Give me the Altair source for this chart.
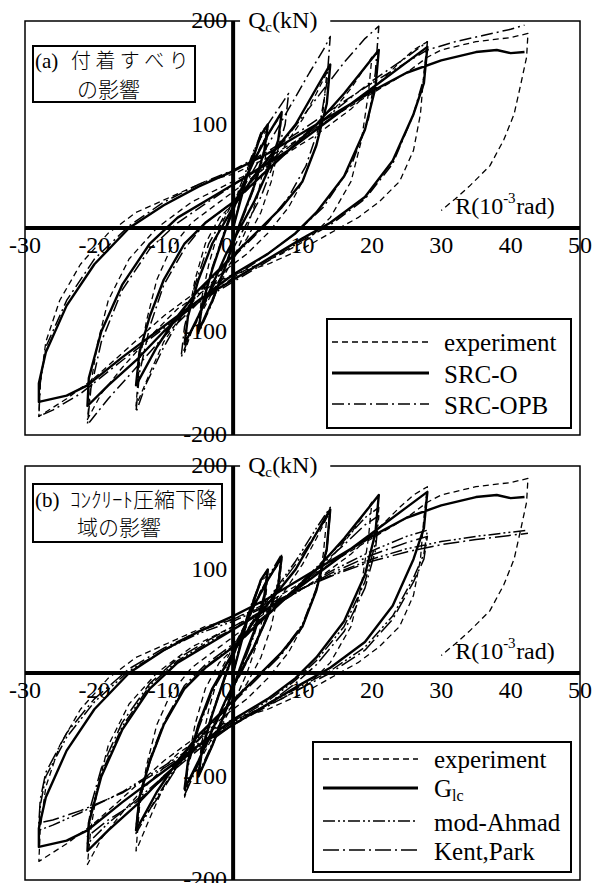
import altair as alt
import pandas as pd

# ---------------- data (R in 1e-3 rad, Qc in kN) ----------------
EXPERIMENT = [
    (0, 0), (2, 55), (4, 88), (5, 95),
    (4.6, 65), (3.5, 30), (2, 0), (0, -30), (-2, -55), (-4, -85), (-5, -98),
    (-4.6, -70), (-3.5, -35), (-2, 0), (0, 25), (2, 50), (4, 80), (6, 100), (7, 110),
    (6.6, 80), (5.5, 45), (4, 15), (2, -10), (0, -30), (-2, -50), (-4, -75), (-6, -100), (-7, -120),
    (-6.6, -90), (-5.5, -50), (-4, -15), (-2, 10), (1, 30), (4, 50), (7, 75), (10, 105), (12, 130), (13.5, 150),
    (13, 115), (12, 80), (10, 45), (8, 20), (5, -5), (2, -25), (-1, -40), (-4, -58), (-7, -80), (-10, -110), (-12, -140), (-14, -172),
    (-13.5, -130), (-12.5, -90), (-11, -50), (-9, -20), (-6, 5), (-2, 25), (2, 45), (6, 65), (10, 85), (14, 110), (17, 135), (19, 155), (20, 165),
    (19.5, 130), (18.5, 85), (17, 45), (14, 10), (11, -10), (7, -25), (2, -40), (-3, -55), (-8, -78), (-12, -105), (-16, -135), (-19, -160), (-21, -185),
    (-20.5, -150), (-19.5, -110), (-18, -70), (-15, -30), (-11, 0), (-6, 25), (0, 45), (6, 65), (12, 90), (17, 115), (21, 140), (24, 160), (26, 172), (28, 180),
    (27.5, 150), (27, 110), (26, 75), (24, 45), (21, 25), (18, 10), (14, -5), (10, -20), (5, -35), (0, -45), (-5, -60), (-10, -85), (-15, -115), (-20, -145), (-24, -165), (-28, -182),
    (-27.8, -150), (-27, -110), (-25, -70), (-22, -35), (-18, -5), (-14, 15), (-9, 30), (-4, 45), (0, 52), (5, 68), (10, 88), (15, 110), (20, 130), (25, 150), (28, 165), (30, 172), (35, 180), (40, 184), (42.5, 188),
    (42.3, 165), (41.5, 140), (40.5, 110), (39, 85), (37, 60), (34, 40), (32, 28), (30, 17),
]

SRC_O = [
    (0, 0), (2, 50), (4, 90), (5, 100),
    (4.5, 75), (3, 40), (1, 5), (-1, -35), (-3, -70), (-5, -100),
    (-4.5, -75), (-3, -40), (-1, 0), (1, 35), (3, 65), (5, 90), (7, 112),
    (6.5, 85), (5, 55), (3, 25), (1, 0), (-1, -25), (-3, -55), (-5, -85), (-7, -112),
    (-6.5, -85), (-5, -50), (-3, -15), (0, 20), (3, 50), (6, 75), (9, 100), (12, 135), (14, 158),
    (13.5, 120), (12, 80), (10, 45), (7, 20), (4, 0), (1, -20), (-2, -40), (-5, -60), (-8, -85), (-11, -115), (-14, -152),
    (-13.5, -120), (-12, -85), (-10, -50), (-7, -15), (-4, 5), (0, 25), (4, 50), (8, 75), (12, 100), (16, 130), (19, 155), (21, 172),
    (20.5, 135), (19, 95), (16, 50), (12, 15), (9, -5), (5, -25), (0, -45), (-5, -70), (-10, -100), (-14, -128), (-18, -152), (-21, -172),
    (-20.8, -145), (-19, -100), (-16, -55), (-12, -15), (-8, 10), (-3, 30), (2, 50), (8, 75), (14, 105), (20, 135), (25, 160), (28, 175),
    (27.5, 140), (26, 110), (23, 65), (19, 30), (14, 5), (10, -10), (5, -30), (0, -50), (-5, -70), (-10, -95), (-16, -125), (-21, -152), (-24, -162), (-28, -168),
    (-28, -150), (-27, -120), (-24, -75), (-20, -35), (-15, 0), (-10, 22), (-5, 40), (0, 55), (5, 72), (10, 92), (15, 112), (20, 132), (25, 150), (30, 162), (35, 170), (38, 172), (40, 169), (42, 170),
]

SRC_OPB = [
    (0, 0), (2, 55), (4, 92), (5, 100),
    (4.5, 72), (3, 38), (1, 3), (-1, -35), (-3, -72), (-5, -102),
    (-4.5, -75), (-3, -38), (-1, 2), (1, 40), (3, 75), (5, 100), (7, 120), (8, 130),
    (7.5, 100), (6, 65), (4, 30), (2, 5), (0, -20), (-2, -45), (-4, -72), (-6, -100), (-7.5, -125),
    (-7, -95), (-5.5, -55), (-3.5, -15), (-1, 15), (2, 45), (5, 80), (8, 115), (11, 150), (13, 172), (14, 185),
    (13.5, 140), (12.5, 100), (10.5, 60), (8, 30), (5, 5), (2, -15), (-1, -35), (-4, -55), (-7, -80), (-10, -115), (-12.5, -150), (-14, -178),
    (-13.5, -140), (-12, -95), (-10, -55), (-7, -20), (-4, 5), (0, 25), (4, 55), (8, 90), (12, 125), (16, 160), (19, 183), (21, 195),
    (20.5, 150), (19.5, 105), (17, 60), (13, 20), (9, -5), (5, -25), (0, -48), (-5, -72), (-10, -105), (-14, -135), (-18, -165), (-21, -190),
    (-20.5, -155), (-19, -110), (-16, -60), (-12, -20), (-8, 5), (-3, 28), (2, 50), (8, 78), (14, 110), (20, 142), (25, 165), (28, 180),
    (27.5, 145), (26, 110), (23, 62), (19, 28), (14, 3), (10, -12), (5, -32), (0, -52), (-5, -72), (-10, -97), (-16, -128), (-22, -160), (-26, -176), (-28, -182),
    (-27.8, -150), (-27, -115), (-24, -70), (-20, -30), (-15, 2), (-10, 25), (-5, 42), (0, 56), (5, 74), (10, 95), (15, 118), (20, 140), (25, 160), (28, 172), (32, 180), (36, 186), (40, 192), (42, 196),
]

G_LC = SRC_O  # the G_lc curve of panel (b) follows the SRC-O curve of panel (a)

MOD_AHMAD = [
    (0, 0), (2, 55), (4, 90), (5, 100),
    (4.5, 72), (3, 38), (1, 3), (-1, -33), (-3, -68), (-5, -98),
    (-4.5, -72), (-3, -38), (-1, 0), (1, 35), (3, 66), (5, 92), (7, 115),
    (6.5, 88), (5, 57), (3, 26), (1, 0), (-1, -25), (-3, -55), (-5, -86), (-7, -115),
    (-6.5, -88), (-5, -52), (-3, -16), (0, 20), (3, 52), (6, 80), (9, 108), (12, 140), (14, 160),
    (13.5, 122), (12, 82), (10, 47), (7, 20), (4, 0), (1, -20), (-2, -40), (-5, -62), (-8, -88), (-11, -120), (-14, -155),
    (-13.5, -122), (-12, -86), (-10, -50), (-7, -14), (-4, 6), (0, 26), (4, 50), (8, 76), (12, 102), (16, 128), (19, 150), (21, 160),
    (20.5, 125), (19, 88), (16, 45), (12, 12), (9, -7), (5, -27), (0, -47), (-5, -72), (-10, -100), (-14, -123), (-18, -145), (-21, -165),
    (-20.5, -135), (-19, -97), (-16, -52), (-12, -12), (-8, 12), (-3, 32), (2, 50), (8, 73), (14, 98), (20, 118), (25, 132), (28, 138),
    (27.5, 115), (26, 92), (23, 55), (19, 25), (14, 2), (10, -12), (5, -30), (0, -48), (-5, -68), (-10, -90), (-16, -115), (-22, -135), (-26, -147), (-28, -152),
    (-27.8, -128), (-27, -100), (-24, -62), (-20, -28), (-15, 2), (-10, 22), (-5, 38), (0, 50), (5, 65), (10, 82), (15, 97), (20, 110), (25, 120), (30, 127), (35, 132), (40, 136), (42.5, 138),
]

KENT_PARK = [
    (0, 0), (2, 52), (4, 88), (5, 98),
    (4.5, 70), (3, 36), (1, 1), (-1, -35), (-3, -70), (-5, -100),
    (-4.5, -73), (-3, -40), (-1, -2), (1, 33), (3, 64), (5, 90), (7, 113),
    (6.5, 86), (5, 55), (3, 24), (1, -2), (-1, -27), (-3, -57), (-5, -88), (-7, -118),
    (-6.5, -90), (-5, -54), (-3, -18), (0, 18), (3, 50), (6, 78), (9, 105), (12, 135), (14, 155),
    (13.5, 118), (12, 80), (10, 45), (7, 18), (4, -2), (1, -22), (-2, -42), (-5, -64), (-8, -90), (-11, -122), (-14, -150),
    (-13.5, -118), (-12, -83), (-10, -48), (-7, -12), (-4, 8), (0, 28), (4, 52), (8, 76), (12, 100), (16, 124), (19, 143), (21, 152),
    (20.5, 118), (19, 82), (16, 40), (12, 8), (9, -10), (5, -30), (0, -50), (-5, -74), (-10, -102), (-14, -125), (-18, -142), (-21, -158),
    (-20.5, -128), (-19, -92), (-16, -48), (-12, -10), (-8, 14), (-3, 34), (2, 52), (8, 74), (14, 96), (20, 114), (25, 126), (28, 132),
    (27.5, 110), (26, 88), (23, 52), (19, 22), (14, 0), (10, -14), (5, -32), (0, -50), (-5, -70), (-10, -92), (-16, -116), (-22, -133), (-26, -142), (-28, -145),
    (-27.8, -122), (-27, -96), (-24, -58), (-20, -25), (-15, 4), (-10, 24), (-5, 40), (0, 52), (5, 66), (10, 82), (15, 96), (20, 108), (25, 117), (30, 124), (35, 129), (40, 133), (42.5, 135),
]

X_TICKS = [-30, -20, -10, 10, 20, 30, 40, 50]
Y_TICKS = [200, 100, -100, -200]
X_GRID = [-30, -20, -10, 0, 10, 20, 30, 40, 50]
Y_GRID = [-200, -100, 0, 100, 200]

# ---------------- styling / layout ----------------
W, H = 555, 414
SERIF = "Liberation Serif"
JP = "Noto Sans CJK JP"
XS = alt.Scale(domain=[-30, 50], nice=False, zero=False)
YS = alt.Scale(domain=[-200, 200], nice=False, zero=False)
TICK_FS = 24
LEG_FS = 25

DASH_EXP = [6, 4]
DASH_DD = [12, 4, 2, 4]
DASH_DDD = [12, 3, 2, 3, 2, 3]
DASH_KP = [16, 4, 2, 4]

ONE = pd.DataFrame({"k": [0]})


def X(field):
    return alt.X(field, type="quantitative", scale=XS, axis=None)


def Y(field):
    return alt.Y(field, type="quantitative", scale=YS, axis=None)


def grid_layer():
    df = pd.DataFrame({"R": [-30, 50], "Q": [-200, 200]})
    return alt.Chart(df).mark_point(opacity=0).encode(
        x=alt.X("R:Q", scale=XS, axis=alt.Axis(values=X_GRID, grid=True, labels=False, ticks=False,
                                                domain=False, title=None, gridColor="#505050", gridWidth=1)),
        y=alt.Y("Q:Q", scale=YS, axis=alt.Axis(values=Y_GRID, grid=True, labels=False, ticks=False,
                                                domain=False, title=None, gridColor="#505050", gridWidth=1)),
    )


def curve(pairs, dash, width):
    df = pd.DataFrame({"R": [p[0] for p in pairs], "Q": [p[1] for p in pairs], "i": list(range(len(pairs)))})
    mk = dict(color="black", strokeWidth=width, strokeJoin="round", strokeCap="butt", clip=True)
    if dash:
        mk["strokeDash"] = dash
    return alt.Chart(df).mark_line(**mk).encode(x=X("R"), y=Y("Q"), order=alt.Order("i:Q"))


def zero_lines():
    v = pd.DataFrame({"v": [0]})
    vx = alt.Chart(v).mark_rule(color="black", strokeWidth=4).encode(x=X("v"))
    hy = alt.Chart(v).mark_rule(color="black", strokeWidth=4).encode(y=Y("v"))
    return [vx, hy]


def dlabel(x, y, s, size, align="center", dx=0, dy=0, font=SERIF):
    df = pd.DataFrame({"R": [x], "Q": [y], "t": [s]})
    return alt.Chart(df).mark_text(align=align, baseline="middle", dx=dx, dy=dy, fontSize=size,
                                   font=font, color="black").encode(x=X("R"), y=Y("Q"), text="t:N")


def ptext(px, py, s, size, align="left", font=SERIF, weight="normal"):
    df = pd.DataFrame({"t": [s]})
    return alt.Chart(df).mark_text(align=align, baseline="middle", fontSize=size, font=font,
                                   fontWeight=weight, color="black").encode(
        x=alt.value(px), y=alt.value(py), text="t:N")


def prect(x1, y1, x2, y2, sw=2):
    return alt.Chart(ONE).mark_rect(fill="white", stroke="black", strokeWidth=sw).encode(
        x=alt.value(x1), x2=alt.value(x2), y=alt.value(y1), y2=alt.value(y2))


def prule(x1, x2, y, dash, width):
    mk = dict(color="black", strokeWidth=width)
    if dash:
        mk["strokeDash"] = dash
    return alt.Chart(ONE).mark_rule(**mk).encode(x=alt.value(x1), x2=alt.value(x2), y=alt.value(y))


def axis_texts():
    layers = []
    for v in X_TICKS:
        layers.append(dlabel(v, 0, str(v), TICK_FS, dy=18))
    layers.append(dlabel(-0.9, 0, "0", TICK_FS, dy=18))
    for v in Y_TICKS:
        layers.append(dlabel(0, v, str(v), TICK_FS, align="right", dx=-6))
    # white gap in the top frame for the axis title
    gap = alt.Chart(pd.DataFrame({"a": [1.0], "b": [14.0]})).mark_rect(fill="white").encode(
        x=X("a"), x2="b:Q", y=alt.value(-9), y2=alt.value(9))
    layers.append(gap)
    layers.append(dlabel(0, 200, "Q", TICK_FS, align="left", dx=15))
    layers.append(dlabel(0, 200, "c", 15, align="left", dx=32, dy=6))
    layers.append(dlabel(0, 200, "(kN)", TICK_FS, align="left", dx=39))
    layers.append(dlabel(32.0, 20, "R(10", TICK_FS, align="left"))
    layers.append(dlabel(32.0, 20, "-3", 15, align="left", dx=48, dy=-9))
    layers.append(dlabel(32.0, 20, "rad)", TICK_FS, align="left", dx=61))
    return layers


# ---------------- panel (a) ----------------
panel_a_layers = [grid_layer(),
                  curve(EXPERIMENT, DASH_EXP, 1.3),
                  curve(SRC_OPB, DASH_DD, 1.5),
                  curve(SRC_O, None, 2.4)]
panel_a_layers += zero_lines()
panel_a_layers += axis_texts()
panel_a_layers += [
    prect(8, 25, 170, 81),
    ptext(10, 41, "(a)", 21),
    ptext(46, 41, "付 着 す べ り", 20, font=JP, weight=300),
    ptext(52, 70, "の影響", 21, font=JP, weight=300),
    prect(302, 298, 546, 407),
    prule(307, 404, 321, DASH_EXP, 1.3),
    prule(307, 404, 352, None, 3),
    prule(307, 404, 383, DASH_DD, 1.5),
    ptext(419, 322, "experiment", LEG_FS),
    ptext(419, 354, "SRC-O", LEG_FS),
    ptext(419, 385, "SRC-OPB", LEG_FS),
]
panel_a = alt.layer(*panel_a_layers).properties(width=W, height=H)

# ---------------- panel (b) ----------------
panel_b_layers = [grid_layer(),
                  curve(EXPERIMENT, DASH_EXP, 1.3),
                  curve(KENT_PARK, DASH_KP, 1.5),
                  curve(MOD_AHMAD, DASH_DDD, 1.5),
                  curve(G_LC, None, 2.4)]
panel_b_layers += zero_lines()
panel_b_layers += axis_texts()
panel_b_layers += [
    prect(8, 18, 197, 76),
    ptext(10, 35, "(b)", 21),
    ptext(45, 35, "ｺﾝｸﾘｰﾄ圧縮下降", 21, font=JP, weight=300),
    ptext(52, 63, "域の影響", 21, font=JP, weight=300),
    prect(288, 276, 546, 406),
    prule(298, 393, 293, DASH_EXP, 1.3),
    prule(298, 393, 322, None, 3),
    prule(298, 393, 355, DASH_DDD, 1.5),
    prule(298, 393, 384, DASH_KP, 1.5),
    ptext(409, 294, "experiment", LEG_FS),
    ptext(409, 323, "G", LEG_FS),
    ptext(427, 330, "lc", 16),
    ptext(409, 357, "mod-Ahmad", LEG_FS),
    ptext(409, 386, "Kent,Park", LEG_FS),
]
panel_b = alt.layer(*panel_b_layers).properties(width=W, height=H)

chart = alt.vconcat(panel_a, panel_b, spacing=31, bounds="flush").properties(
    padding={"left": 0, "top": 0, "right": 5, "bottom": 5}
).configure_view(stroke="black", strokeWidth=1.5)

chart.save("out.html", embed_options={"renderer": "svg", "actions": False})
